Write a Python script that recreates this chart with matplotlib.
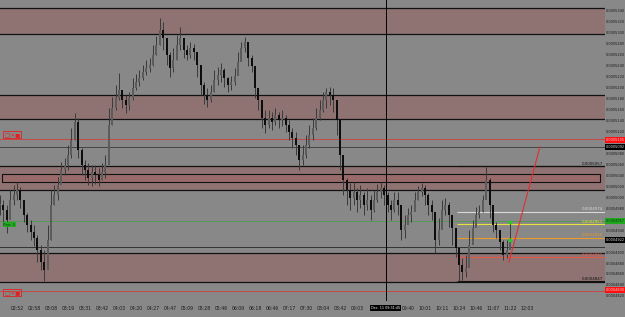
import numpy as np
import matplotlib.pyplot as plt
from matplotlib.ticker import FuncFormatter

# prices in units of 0.0000001
closes = [4986, 4977, 4959, 4995, 5004, 5013, 4995, 4968, 4949, 4937,
          4926, 4904, 4882, 4867, 4922, 4986, 5004, 5022, 5050, 5059,
          5077, 5105, 5137, 5086, 5059, 5050, 5035, 5046, 5041, 5032,
          5046, 5059, 5132, 5163, 5181, 5196, 5178, 5168, 5181, 5199,
          5210, 5218, 5229, 5236, 5241, 5260, 5278, 5305, 5291, 5260,
          5236, 5250, 5278, 5291, 5269, 5260, 5272, 5265, 5241, 5205,
          5187, 5178, 5192, 5214, 5223, 5232, 5218, 5205, 5210, 5221,
          5247, 5272, 5283, 5254, 5240, 5199, 5178, 5145, 5132, 5145,
          5137, 5150, 5141, 5145, 5132, 5119, 5108, 5095, 5068, 5077,
          5095, 5114, 5126, 5145, 5159, 5178, 5192, 5187, 5178, 5141,
          5077, 5032, 5013, 4999, 5010, 4995, 5004, 4986, 4995, 4977,
          4995, 5010, 5017, 5004, 4986, 4977, 4995, 4986, 4940, 4949,
          4968, 4973, 4995, 5010, 5017, 5004, 4986, 4973, 4922, 4940,
          4977, 4986, 4968, 4944, 4907, 4876, 4864, 4871, 4913, 4944,
          4968, 4973, 4995, 5032, 4986, 4949, 4940, 4918, 4895, 4904,
          4922]
highs = [5004, 4995, 4986, 5013, 5022, 5028, 5019, 4995, 4971, 4959,
         4949, 4931, 4913, 4904, 4949, 5013, 5022, 5037, 5064, 5072,
         5095, 5126, 5154, 5145, 5090, 5068, 5063, 5059, 5059, 5053,
         5063, 5077, 5163, 5183, 5205, 5227, 5196, 5187, 5192, 5218,
         5225, 5232, 5241, 5250, 5254, 5278, 5294, 5327, 5320, 5291,
         5265, 5272, 5296, 5311, 5287, 5278, 5283, 5280, 5260, 5232,
         5210, 5199, 5205, 5232, 5238, 5245, 5236, 5219, 5221, 5236,
         5265, 5283, 5292, 5278, 5260, 5236, 5199, 5178, 5159, 5159,
         5156, 5163, 5156, 5159, 5150, 5141, 5126, 5119, 5095, 5095,
         5114, 5132, 5145, 5163, 5178, 5192, 5199, 5201, 5199, 5178,
         5132, 5068, 5035, 5026, 5028, 5017, 5022, 5010, 5017, 5004,
         5013, 5024, 5028, 5022, 5010, 4995, 5010, 5010, 4968, 4968,
         4980, 4986, 5010, 5021, 5026, 5022, 5008, 4995, 4962, 4962,
         4995, 4999, 4991, 4962, 4940, 4904, 4889, 4895, 4940, 4959,
         4982, 4986, 5004, 5055, 5035, 4968, 4955, 4937, 4922, 4922,
         4955]
lows = [4968, 4949, 4935, 4968, 4986, 4995, 4980, 4955, 4937, 4922,
        4911, 4882, 4867, 4847, 4871, 4922, 4986, 4995, 5026, 5041,
        5050, 5072, 5105, 5072, 5041, 5032, 5022, 5021, 5024, 5021,
        5032, 5035, 5068, 5132, 5159, 5178, 5163, 5154, 5159, 5178,
        5196, 5203, 5214, 5223, 5229, 5240, 5260, 5278, 5269, 5241,
        5219, 5229, 5250, 5269, 5254, 5250, 5254, 5250, 5219, 5187,
        5170, 5165, 5174, 5192, 5205, 5210, 5201, 5192, 5196, 5205,
        5229, 5250, 5265, 5240, 5229, 5181, 5159, 5126, 5117, 5126,
        5123, 5132, 5126, 5130, 5119, 5105, 5090, 5077, 5050, 5059,
        5072, 5090, 5105, 5123, 5141, 5156, 5163, 5168, 5156, 5114,
        5050, 5004, 4986, 4977, 4986, 4973, 4980, 4968, 4977, 4959,
        4973, 4991, 4999, 4986, 4973, 4959, 4973, 4968, 4922, 4926,
        4955, 4955, 4977, 4995, 5002, 4986, 4968, 4959, 4898, 4913,
        4955, 4968, 4946, 4913, 4891, 4847, 4849, 4855, 4882, 4922,
        4949, 4962, 4973, 5004, 4962, 4937, 4926, 4904, 4886, 4889,
        4909]

time_labels = ['02:52', '02:58', '03:08', '03:19', '03:31', '03:42', '04:03',
               '04:20', '04:27', '04:47', '05:09', '05:28', '05:46', '06:09',
               '06:18', '06:46', '07:17', '07:30', '08:04', '08:42', '09:03',
               '', '', '09:40', '10:01', '10:11', '10:24', '10:46', '11:07',
               '11:22', '12:03']
cursor_bar = 113.5
cursor_label = 'Dec. 11 09:31:45'

# support / resistance zones (top, bottom)
zones = [(5345, 5298), (5187, 5143), (5057, 5013), (4898, 4845)]
inner_zone = (5043, 5028)

# order levels drawn from the last swing, with their colours
levels = [5057, 4974, 4951, 4926, 4891, 4847]
level_colors = ['#111111', '#d8d8d8', '#e6e23c', '#e89a2c', '#e05a4a', '#111111']
level_start = 134.4

# axis price tags (price, box colour, text colour)
tags = [(5105, '#ff1010', '#ffd0d0'), (5092, '#000000', '#e0e0e0'),
        (4957, '#1fa81f', '#0a3a0a'), (4922, '#000000', '#e0e0e0'),
        (4830, '#ff1010', '#ffd0d0')]

trend_x = [149.7, 158.8]
trend_y = [4882, 5092]
trade_marks = [4955, 4922]

BG = '#888888'
ZONE = '#8f7373'

fig = plt.figure(figsize=(6.25, 3.17), dpi=100, facecolor=BG)
ax = fig.add_axes([0, 16 / 317, 605 / 625, 301 / 317])
ax.set_facecolor(BG)
xmax = 605 / 3.4
ax.set_xlim(0, xmax)
ax.set_ylim(4810.7, 5360)

for top, bot in zones:
    ax.axhspan(bot, top, color=ZONE, lw=0, zorder=0)
    ax.axhline(top, color='#111111', lw=0.9, zorder=1)
    ax.axhline(bot, color='#111111', lw=0.9, zorder=1)
ax.fill_between([0.6, 176.5], inner_zone[1], inner_zone[0], color='#996a6a',
                edgecolor='#111111', lw=0.8, zorder=1)

# other horizontal lines
ax.axhline(5106, color='#c84848', lw=0.7, zorder=1)
ax.axhline(5092, color='#3a3a3a', lw=0.6, zorder=1)
ax.axhline(4956, color='#4f9a4f', lw=0.6, zorder=1)
ax.axhline(4910, color='#333333', lw=0.7, zorder=1)
ax.axhline(4829, color='#c84848', lw=0.7, zorder=1)

for v, c in zip(levels, level_colors):
    ax.hlines(v, level_start, xmax, color=c, lw=0.8, zorder=2)
    ax.text(177.3, v + 0.8, f'{v * 1e-7:.7f}', color=c, fontsize=2.9,
            ha='right', va='bottom', zorder=6)

# candles
x = np.arange(len(closes))
c = np.array(closes)
o = np.concatenate([[c[0]], c[:-1]])
h = np.array(highs)
l = np.array(lows)
up = c >= o
ax.vlines(x, l, h, color='#3a3a3a', lw=0.7, zorder=3)
body = np.maximum(np.abs(c - o), 1.5)
ax.bar(x[up], body[up], bottom=np.minimum(o, c)[up], width=0.55,
       color='#5c5c5c', zorder=4)
ax.bar(x[~up], body[~up], bottom=np.minimum(o, c)[~up], width=0.55,
       color='#0d0d0d', zorder=4)

ax.scatter([x[-1]] * len(trade_marks), trade_marks, marker='s', s=2.5,
           color='#22cc22', zorder=5)
ax.plot(trend_x, trend_y, color='#e03030', lw=0.8, zorder=5)

ax.axvline(cursor_bar, color='#000000', lw=0.7, zorder=5)

# small chart objects
ax.text(1.2, 5114, '\u25a1I\u2715\u25a0', color='#e02020', fontsize=3.9,
        va='center', ha='left', zorder=6,
        bbox=dict(boxstyle='square,pad=0.15', fc='none', ec='#e02020', lw=0.6))
ax.text(1.2, 4826, '\u25a1I\u2715\u25a0', color='#e02020', fontsize=3.9,
        va='center', ha='left', zorder=6,
        bbox=dict(boxstyle='square,pad=0.15', fc='none', ec='#e02020', lw=0.6))
ax.text(1.0, 4950, 'Pos: 1', color='#0a3a0a', fontsize=3.0, va='center',
        ha='left', zorder=6,
        bbox=dict(boxstyle='square,pad=0.15', fc='#22aa22', ec='none'))

# axes
for s in ax.spines.values():
    s.set_visible(False)
ax.yaxis.tick_right()
tag_prices = [t[0] for t in tags]
yticks = [v for v in range(4820, 5341, 20)
          if min(abs(v - t) for t in tag_prices) > 6]
ax.set_yticks(yticks)
ax.yaxis.set_major_formatter(FuncFormatter(lambda v, p: f'{v * 1e-7:.7f}'))
ax.tick_params(axis='y', length=0, pad=0.8, labelsize=2.5, labelcolor='#1a1a1a')
ax.set_xticks(np.arange(1, len(time_labels) + 1) * 5)
ax.set_xticklabels(time_labels)
ax.tick_params(axis='x', length=0, pad=3.5, labelsize=3.3, labelcolor='#1a1a1a')

for v, fc, tc in tags:
    ax.annotate(f'{v * 1e-7:.7f}', xy=(1, v), xycoords=('axes fraction', 'data'),
                xytext=(0.6, 0), textcoords='offset points', ha='left',
                va='center', fontsize=2.5, color=tc, annotation_clip=False,
                zorder=10,
                bbox=dict(boxstyle='square,pad=0.3', fc=fc, ec='none'))

ax.annotate(cursor_label, xy=(cursor_bar, 0), xycoords=('data', 'axes fraction'),
            xytext=(0, -5.2), textcoords='offset points', ha='center',
            va='center', fontsize=2.4, color='#ffffff', annotation_clip=False,
            zorder=10, bbox=dict(boxstyle='square,pad=0.3', fc='#000000', ec='none'))

fig.savefig('out.png', dpi=100, facecolor=BG)
